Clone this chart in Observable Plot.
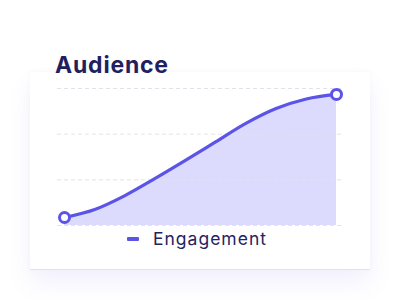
<!DOCTYPE html>
<html>
<head>
<meta charset="utf-8">
<script src="https://cdn.jsdelivr.net/npm/d3@7"></script>
<script src="https://cdn.jsdelivr.net/npm/@observablehq/plot@0.6"></script>
<style>
  html, body { margin: 0; padding: 0; background: #ffffff; }
  #wrap { position: relative; width: 400px; height: 300px; overflow: hidden; font-family: Inter, "Noto Sans", sans-serif; }
  #card { position: absolute; left: 30px; top: 72px; width: 340px; height: 197px; background: #fff;
    box-shadow: 0 1px 0 #e4e3ec, 0 0 6px rgba(40,40,80,0.035), 0 14px 22px rgba(110,100,235,0.09); }
  #title { position: absolute; left: 55px; top: 51px; font-size: 23px; font-weight: 700; color: #231f5e; letter-spacing: 0.8px; }
  #chart { position: absolute; left: 0; top: 0; }
  #legend { position: absolute; left: 127px; top: 228px; display: flex; align-items: center; font-size: 17.5px; color: #262261; letter-spacing: 1px; }
  #legend .sw { width: 12px; height: 4px; background: #5b54e6; margin-right: 14px; border-radius: 1px; }
</style>
</head>
<body>
<div id="wrap">
  <div id="card"></div>
  <div id="chart"></div>
  <div id="title">Audience</div>
  <div id="legend"><span class="sw"></span><span id="legtext"></span></div>
</div>
<script>
const periods = [0, 1, 2, 3, 4, 5, 6, 7, 8, 9];
const engagement = [3.5, 7.0, 13.1, 20.6, 28.5, 36.6, 44.7, 51.2, 55.4, 57.4];
const yTicks = [0, 20, 40, 60];
const seriesName = "Engagement";

const data = periods.map((p, i) => ({ p, v: engagement[i] }));
const ends = [data[0], data[data.length - 1]];
const color = "#5b54e6";

const chart = Plot.plot({
  width: 400,
  height: 300,
  marginTop: 88,
  marginBottom: 75,
  marginLeft: 57,
  marginRight: 57,
  style: { background: "transparent", overflow: "visible" },
  x: { domain: [0, 9], inset: 7, axis: null },
  y: { domain: [0, 60], ticks: yTicks, axis: null },
  marks: [
    Plot.areaY(data, { x: "p", y: "v", curve: "monotone-x", fill: "#dcdafd" }),
    Plot.gridY(yTicks, { stroke: "#e3e2ea", strokeOpacity: 1, strokeDasharray: "4,3", strokeWidth: 1 }),
    Plot.lineY(data, { x: "p", y: "v", curve: "monotone-x", stroke: color, strokeWidth: 3.2 }),
    Plot.dot(ends, { x: "p", y: "v", r: 5, fill: "#fff", stroke: color, strokeWidth: 3 })
  ]
});
document.getElementById("chart").appendChild(chart);
document.getElementById("legtext").textContent = seriesName;
</script>
</body>
</html>
